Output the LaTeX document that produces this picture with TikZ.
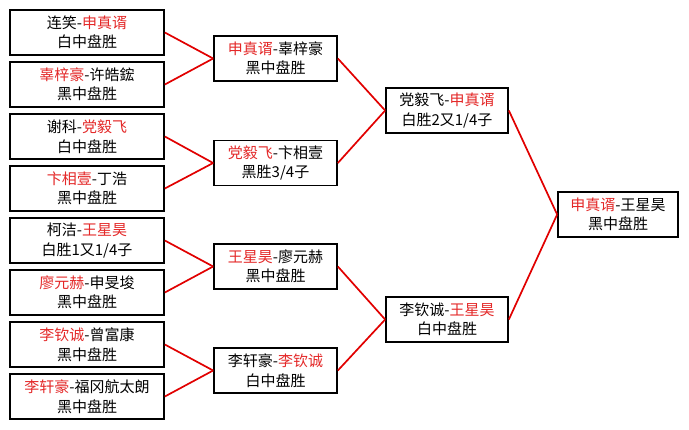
\documentclass[tikz,border=0pt]{standalone}
\usepackage{fontspec}
\setmainfont{Noto Sans CJK SC}
\definecolor{wred}{RGB}{228,40,40}
\definecolor{lred}{RGB}{225,0,0}
\newcommand{\rd}[1]{\textcolor{wred}{#1}}
\begin{document}
\begin{tikzpicture}[x=1pt,y=-1pt,
  box/.style={draw=black,line width=1.7pt,fill=white,align=center,inner sep=0pt,
    font=\fontsize{15}{19.5}\selectfont,minimum height=45pt},
  c1/.style={box,minimum width=154pt},
  c2/.style={box,minimum width=123pt},
  c3/.style={box,minimum width=122pt},
  c4/.style={box,minimum width=120pt},
  link/.style={draw=lred,line width=1.7pt}]
\useasboundingbox[fill=white] (0,0) rectangle (689,429);
% column 1
\node[c1] (a1) at (87,32.5) {连笑-\rd{申真谞}\\白中盘胜};
\node[c1] (a2) at (87,84.5) {\rd{辜梓豪}-许皓鋐\\黑中盘胜};
\node[c1] (a3) at (87,136.5) {谢科-\rd{党毅飞}\\白中盘胜};
\node[c1] (a4) at (87,188.5) {\rd{卞相壹}-丁浩\\黑中盘胜};
\node[c1] (a5) at (87,240.5) {柯洁-\rd{王星昊}\\白胜1又1/4子};
\node[c1] (a6) at (87,292.5) {\rd{廖元赫}-申旻埈\\黑中盘胜};
\node[c1] (a7) at (87,344.5) {\rd{李钦诚}-曾富康\\黑中盘胜};
\node[c1] (a8) at (87,396.5) {\rd{李轩豪}-福冈航太朗\\黑中盘胜};
% column 2
\node[c2] (b1) at (275.5,58.5) {\rd{申真谞}-辜梓豪\\黑中盘胜};
\node[c2] (b2) at (275.5,163) {\rd{党毅飞}-卞相壹\\黑胜3/4子};
\node[c2] (b3) at (275.5,266.5) {\rd{王星昊}-廖元赫\\黑中盘胜};
\node[c2] (b4) at (275.5,370.5) {李轩豪-\rd{李钦诚}\\白中盘胜};
% column 3
\node[c3] (c1n) at (447,110.5) {党毅飞-\rd{申真谞}\\白胜2又1/4子};
\node[c3] (c2n) at (447,319.5) {李钦诚-\rd{王星昊}\\白中盘胜};
% column 4
\node[c4] (d1) at (618,214.5) {\rd{申真谞}-王星昊\\黑中盘胜};
% links
\draw[link] (a1.east) -- (b1.west);
\draw[link] (a2.east) -- (b1.west);
\draw[link] (a3.east) -- (b2.west);
\draw[link] (a4.east) -- (b2.west);
\draw[link] (a5.east) -- (b3.west);
\draw[link] (a6.east) -- (b3.west);
\draw[link] (a7.east) -- (b4.west);
\draw[link] (a8.east) -- (b4.west);
\draw[link] (b1.east) -- (c1n.west);
\draw[link] (b2.east) -- (c1n.west);
\draw[link] (b3.east) -- (c2n.west);
\draw[link] (b4.east) -- (c2n.west);
\draw[link] (c1n.east) -- (d1.west);
\draw[link] (c2n.east) -- (d1.west);
\end{tikzpicture}
\end{document}
